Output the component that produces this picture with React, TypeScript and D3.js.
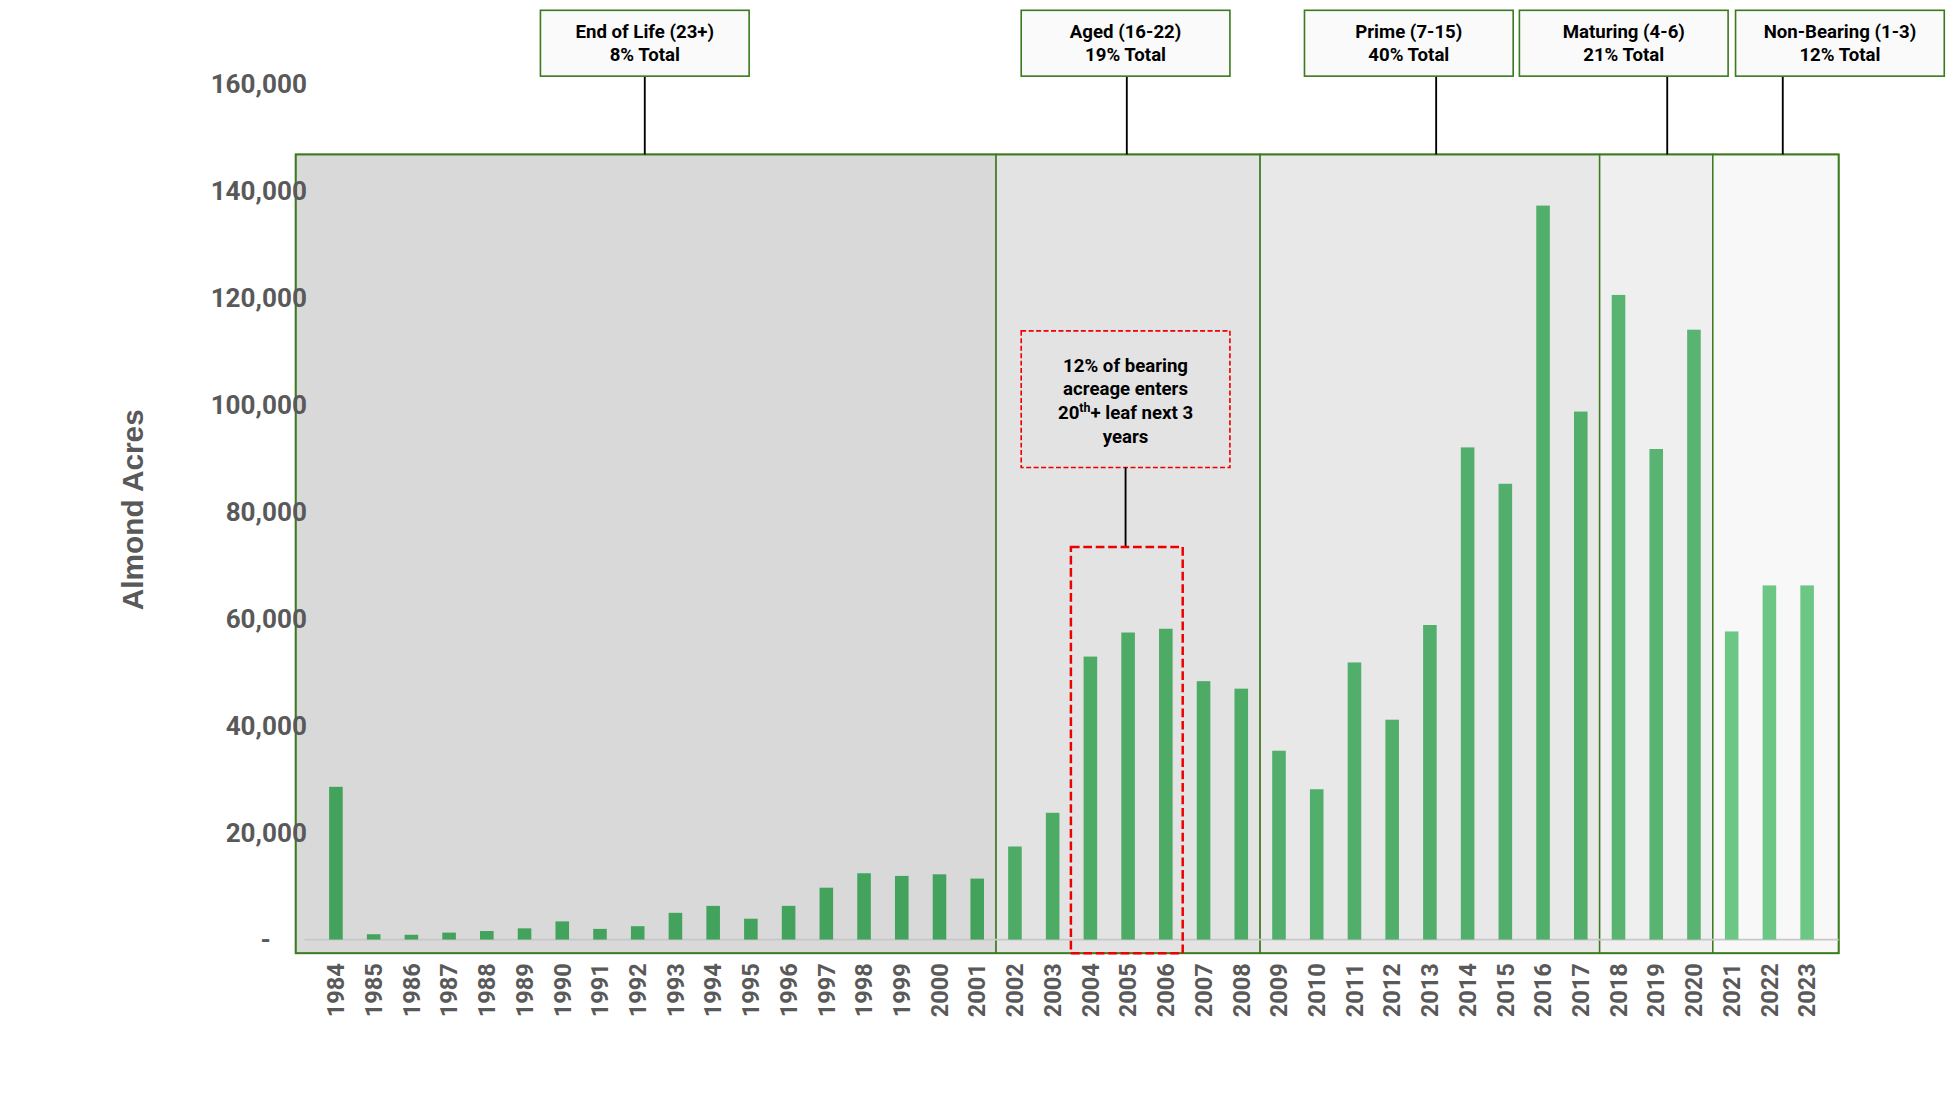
import React from "react";
import * as d3 from "d3";

const years = d3.range(1984, 2024).map(String);
const acres = [28560, 1000, 900, 1300, 1600, 2100, 3400, 2000, 2500, 5000, 6300, 3900, 6300, 9700, 12400, 11900, 12200, 11400, 17400, 23700, 52900, 57400, 58100, 48300, 46900, 35300, 28100, 51800, 41100, 58800, 92000, 85200, 137200, 98700, 120500, 91700, 114000, 57600, 66200, 66200];
const yTicks = [0, 20000, 40000, 60000, 80000, 100000, 120000, 140000, 160000];
const sections = [
  { from: "1984", to: "2001", title: "End of Life (23+)", pct: "8% Total", fill: "#d9d9d9", bar: "#43a35c", bx: 435, lx: 519 },
  { from: "2002", to: "2008", title: "Aged (16-22)", pct: "19% Total", fill: "#e3e3e3", bar: "#4dab66", bx: 822, lx: 907 },
  { from: "2009", to: "2017", title: "Prime (7-15)", pct: "40% Total", fill: "#e8e8e8", bar: "#52ae6b", bx: 1050, lx: 1156 },
  { from: "2018", to: "2020", title: "Maturing (4-6)", pct: "21% Total", fill: "#efefef", bar: "#58b470", bx: 1223, lx: 1342 },
  { from: "2021", to: "2023", title: "Non-Bearing (1-3)", pct: "12% Total", fill: "#f8f8f8", bar: "#6cc785", bx: 1397, lx: 1435 },
];

export default function App() {
  const x = d3.scaleBand().domain(years).range([245.5, 1479.5]).padding(0.64);
  const y = d3.scaleLinear().domain([0, 160000]).range([756, 67]);
  const top = 124, bottom = 767;
  const secEdge = (s: any, i: number) => {
    const left = i === 0 ? 238 : (x(s.from)! + x.bandwidth() / 2 + x(String(+s.from - 1))! + x.bandwidth() / 2) / 2;
    const right = i === sections.length - 1 ? 1480 : (x(s.to)! + x.bandwidth() / 2 + x(String(+s.to + 1))! + x.bandwidth() / 2) / 2;
    return [left, right];
  };
  const barColor = (yr: string) => sections.find((s) => +yr >= +s.from && +yr <= +s.to)!.bar;
  const font = "Roboto, 'Liberation Sans', sans-serif";
  return (
    <svg width={1948} height={1094} viewBox="0 0 1568 880" style={{ position: "fixed", left: 0, top: 0, background: "#fff" }} fontFamily={font}>
      {sections.map((s, i) => {
        const [l, r] = secEdge(s, i);
        return <rect key={s.title} x={l} y={top} width={r - l} height={bottom - top} fill={s.fill} stroke="#3c7a1e" strokeWidth={1.2} />;
      })}
      <rect x={238} y={top} width={1242} height={bottom - top} fill="none" stroke="#3c7a1e" strokeWidth={1.5} />
      <line x1={245} x2={1480} y1={y(0)} y2={y(0)} stroke="#c8c8c8" strokeWidth={1.5} />
      {years.map((yr, i) => (
        <rect key={yr} x={x(yr)} y={y(acres[i])} width={x.bandwidth()} height={y(0) - y(acres[i])} fill={barColor(yr)} />
      ))}
      {yTicks.map((t) => (
        <text key={t} x={t === 0 ? 218 : 247 - 0} dx={t === 0 ? 0 : -0} y={y(t)} dy="0.35em" textAnchor="end" fontSize={21} fontWeight="bold" fill="#595959" transform={t === 0 ? undefined : "translate(0,0)"}>
          {t === 0 ? "-" : d3.format(",")(t)}
        </text>
      )).map((el, i) => React.cloneElement(el, { x: yTicks[i] === 0 ? 218 : 247 }))}
      {years.map((yr) => (
        <text key={yr} transform={`translate(${x(yr)! + x.bandwidth() / 2},775) rotate(-90)`} dy="0.35em" textAnchor="end" fontSize={19} fontWeight="bold" fill="#595959">{yr}</text>
      ))}
      <text transform="translate(107,410) rotate(-90)" dy="0.35em" textAnchor="middle" fontSize={24} fontWeight="bold" fill="#595959" fontFamily="'Liberation Sans', Arial, sans-serif">Almond Acres</text>
      {sections.map((s) => (
        <g key={s.title}>
          <line x1={s.lx} x2={s.lx} y1={61} y2={top} stroke="#000" strokeWidth={1.5} />
          <rect x={s.bx} y={8} width={168} height={53} fill="#fafafa" stroke="#3c7a1e" strokeWidth={1.3} />
          <text x={s.bx + 84} y={30} textAnchor="middle" fontSize={15} fontWeight="bold" fill="#000">{s.title}</text>
          <text x={s.bx + 84} y={49} textAnchor="middle" fontSize={15} fontWeight="bold" fill="#000">{s.pct}</text>
        </g>
      ))}
      <rect x={822} y={266} width={168} height={110} fill="#e3e3e3" stroke="#e00" strokeWidth={1.3} strokeDasharray="4,2" />
      <text x={906} y={299} textAnchor="middle" fontSize={15} fontWeight="bold">12% of bearing</text>
      <text x={906} y={318} textAnchor="middle" fontSize={15} fontWeight="bold">acreage enters</text>
      <text x={906} y={337} textAnchor="middle" fontSize={15} fontWeight="bold">20<tspan fontSize={10} dy={-6}>th</tspan><tspan dy={6}>+ leaf next 3</tspan></text>
      <text x={906} y={356} textAnchor="middle" fontSize={15} fontWeight="bold">years</text>
      <line x1={906} x2={906} y1={376} y2={440} stroke="#000" strokeWidth={1.5} />
      <rect x={862} y={440} width={90} height={327} fill="none" stroke="#e00" strokeWidth={2} strokeDasharray="7,3" />
    </svg>
  );
}
